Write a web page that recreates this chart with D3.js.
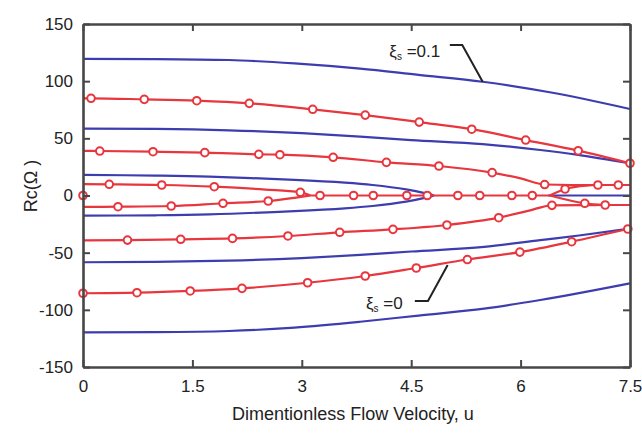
<!DOCTYPE html>
<html>
<head>
<meta charset="utf-8">
<script src="https://cdn.jsdelivr.net/npm/d3@7"></script>
<style>
  body { margin: 0; background: #fff; }
  svg { display: block; font-family: "Liberation Sans", Arial, sans-serif; }
</style>
</head>
<body>
<svg id="chart" width="642" height="436"></svg>
<script>
// axis ticks
const xTicks = [0, 1.5, 3, 4.5, 6, 7.5];
const yTicks = [-150, -100, -50, 0, 50, 100, 150];

// blue curves (xi_s = 0.1), [u, Rc]
const blueTop = [[0,119.5],[1,119.3],[2,118.5],[2.9,115.6],[3.8,111],[4.6,105.5],[5.48,99.5],[6.4,90.3],[7.5,75.7]];
const blueBottom = [[0,-119.7],[1,-119.5],[2,-118.5],[2.9,-115.5],[3.8,-110.4],[4.6,-105],[5.5,-99],[6.27,-91.4],[7.5,-76.8]];
const blueMidTop = [[0,58.5],[1,58.2],[2,57],[3,54.5],[3.8,51.5],[4.5,48.5],[5.48,45],[6.27,39.8],[6.79,35.5],[7.5,28]];
const blueMidBottom = [[0,-58.4],[1,-58],[2,-57],[3,-54.8],[3.8,-52],[4.5,-49],[5.5,-45],[6.27,-39],[6.8,-35],[7.5,-29]];
const blueLobe = [[0,18],[1,17.4],[1.73,16.5],[2.9,13.6],[3.59,11.2],[3.97,9.2],[4.43,5.4],[4.7,1.9],[4.81,0],
                  [4.7,-1.9],[4.43,-5.4],[3.97,-9.2],[3.59,-11.2],[2.9,-13.6],[1.73,-16.5],[1,-17.3],[0,-17.6]];
const blueZero = [[6.38,0],[7.5,0]];

// red curves (xi_s = 0), [u, Rc]
const redTop = [[0,85],[0.11,85],[0.84,84.1],[1.56,82.9],[2.28,80.6],[3.15,75.4],[3.87,70.3],[4.61,64.2],[5.33,58],[6.07,48.5],[6.79,39.2],[7.5,28.2]];
const redBottom = [[0,-85.5],[0.74,-85],[1.47,-83.5],[2.18,-81.2],[3.08,-76.3],[3.87,-70.4],[4.57,-63.4],[5.27,-56],[5.99,-49.5],[6.7,-40.4],[7.47,-29.3]];
const redSecond = [[0,39],[0.23,38.9],[0.96,38.3],[1.67,37.5],[2.41,36],[2.7,35.7],[3.43,33.4],[4.16,29],[4.88,25.8],[5.61,20],[6.0,15],[6.33,9.6],[6.7,9.2],[7.06,9.2],[7.34,9.2],[7.5,9.2]];
const redSecondBottom = [[0,-39.2],[0.61,-39],[1.34,-38.3],[2.05,-37.5],[2.81,-35.4],[3.52,-32.2],[4.25,-29.6],[4.99,-25.8],[5.7,-19.4],[6.1,-13.5],[6.43,-8.6],[6.9,-8.4],[7.16,-8.3],[7.5,-8.3]];
const redInnerTop = [[0,10],[0.36,9.8],[1.08,9.2],[1.8,7.7],[2.5,5.2],[2.98,2.8],[3.12,0]];
const redInnerBottom = [[0,-10],[0.48,-9.8],[1.21,-9.2],[1.92,-6.8],[2.54,-4.8],[2.9,-2],[3.12,0]];
const redZero = [[3.12,0],[6.4,0]];
const redSplitUp = [[6.4,0],[6.61,5.7],[6.9,8.7],[7.1,9.2]];
const redSplitDown = [[6.4,0],[6.88,-6.8],[7.16,-8.3]];

// circle markers on the red curves
const redMarkers = [
  [0,0],
  [0.11,85],[0.84,84.1],[1.56,82.9],[2.28,80.6],[3.15,75.4],[3.87,70.3],[4.61,64.2],[5.33,58],[6.07,48.5],[6.79,39.2],[7.5,28.2],
  [0,-85.5],[0.74,-85],[1.47,-83.5],[2.18,-81.2],[3.08,-76.3],[3.87,-70.4],[4.57,-63.4],[5.27,-56],[5.99,-49.5],[6.7,-40.4],[7.47,-29.3],
  [0.23,38.9],[0.96,38.3],[1.67,37.5],[2.41,36],[2.7,35.7],[3.43,33.4],[4.16,29],[4.88,25.8],[5.61,20],[6.33,9.6],[7.06,9.2],[7.34,9.2],
  [0.61,-39],[1.34,-38.3],[2.05,-37.5],[2.81,-35.4],[3.52,-32.2],[4.25,-29.6],[4.99,-25.8],[5.7,-19.4],[6.43,-8.6],[7.16,-8.3],
  [0.36,9.8],[1.08,9.2],[1.8,7.7],[2.98,2.8],
  [0.48,-9.8],[1.21,-9.2],[1.92,-6.8],[2.54,-4.8],
  [3.25,0],[3.71,0],[3.98,0],[4.44,0],[4.72,0],[5.14,0],[5.44,0],[5.88,0],[6.16,0],
  [6.61,5.7],[6.88,-6.8]
];

// annotations: label position and leader line, in data units
const noteTop = { main: "=0.1", at: [4.2, 121], leader: [[5.03,131.7],[5.2,131.7],[5.48,99.4]] };
const noteBottom = { main: "=0", at: [3.88, -99.5], leader: [[4.55,-92.3],[4.73,-92.3],[5.0,-60.8]] };

const svg = d3.select("#chart");
const x = d3.scaleLinear().domain([0, 7.5]).range([83, 630]);
const y = d3.scaleLinear().domain([-150, 150]).range([367, 24]);

const blue = "#3d3db0", red = "#e8363e", axisCol = "#474747";

const line = d3.line().x(d => x(d[0])).y(d => y(d[1])).curve(d3.curveMonotoneX);
const lobeLine = d3.line().x(d => x(d[0])).y(d => y(d[1])).curve(d3.curveCatmullRom.alpha(0.5));

const plot = svg.append("g");
[blueTop, blueBottom, blueMidTop, blueMidBottom, blueZero].forEach(s => {
  plot.append("path").datum(s).attr("d", line)
    .attr("fill", "none").attr("stroke", blue).attr("stroke-width", 2.2);
});
plot.append("path").datum(blueLobe).attr("d", lobeLine)
  .attr("fill", "none").attr("stroke", blue).attr("stroke-width", 2.2);

[redTop, redBottom, redSecond, redSecondBottom, redInnerTop, redInnerBottom, redZero, redSplitUp, redSplitDown].forEach(s => {
  plot.append("path").datum(s).attr("d", line)
    .attr("fill", "none").attr("stroke", red).attr("stroke-width", 2.2);
});

plot.selectAll("circle.m").data(redMarkers).enter().append("circle")
  .attr("class", "m")
  .attr("cx", d => x(d[0])).attr("cy", d => y(d[1])).attr("r", 3.8)
  .attr("fill", "#fff").attr("stroke", red).attr("stroke-width", 2);

// axes, ticks pointing inward on all four sides
const fmt = d => String(d);
const axBottom = svg.append("g").attr("transform", "translate(0,367)")
  .call(d3.axisBottom(x).tickValues(xTicks).tickSizeInner(-7).tickSizeOuter(0).tickPadding(13).tickFormat(fmt));
const axTop = svg.append("g").attr("transform", "translate(0,24)")
  .call(d3.axisTop(x).tickValues(xTicks).tickSizeInner(-7).tickSizeOuter(0).tickFormat(""));
const axLeft = svg.append("g").attr("transform", "translate(83,0)")
  .call(d3.axisLeft(y).tickValues(yTicks).tickSizeInner(-7).tickSizeOuter(0).tickPadding(10).tickFormat(fmt));
const axRight = svg.append("g").attr("transform", "translate(630,0)")
  .call(d3.axisRight(y).tickValues(yTicks).tickSizeInner(-7).tickSizeOuter(0).tickFormat(""));

[axBottom, axTop, axLeft, axRight].forEach(g => {
  g.select(".domain").attr("stroke", axisCol).attr("stroke-width", 2.6);
  g.selectAll(".tick line").attr("stroke", axisCol).attr("stroke-width", 2);
  g.selectAll(".tick text").attr("fill", "#222").style("font-size", "17px")
    .style("font-family", "'Liberation Sans', Arial, sans-serif");
});

// axis titles
svg.append("text").attr("x", 353).attr("y", 420).attr("text-anchor", "middle")
  .attr("fill", "#222").style("font-size", "18px").text("Dimentionless Flow Velocity, u");
svg.append("text").attr("transform", "translate(37,186) rotate(-90)").attr("text-anchor", "middle")
  .attr("fill", "#222").style("font-size", "18px").text("Rc(Ω )");

// annotations
const leader = d3.line().x(d => x(d[0])).y(d => y(d[1]));
[noteTop, noteBottom].forEach(n => {
  const t = svg.append("text").attr("x", x(n.at[0])).attr("y", y(n.at[1]))
    .attr("fill", "#222").style("font-size", "17px");
  t.append("tspan").text("ξ");
  t.append("tspan").attr("dy", 3).style("font-size", "10px").text("s");
  t.append("tspan").attr("dy", -3).text(" " + n.main);
  svg.append("path").datum(n.leader).attr("d", leader)
    .attr("fill", "none").attr("stroke", "#222").attr("stroke-width", 2);
});
</script>
</body>
</html>
